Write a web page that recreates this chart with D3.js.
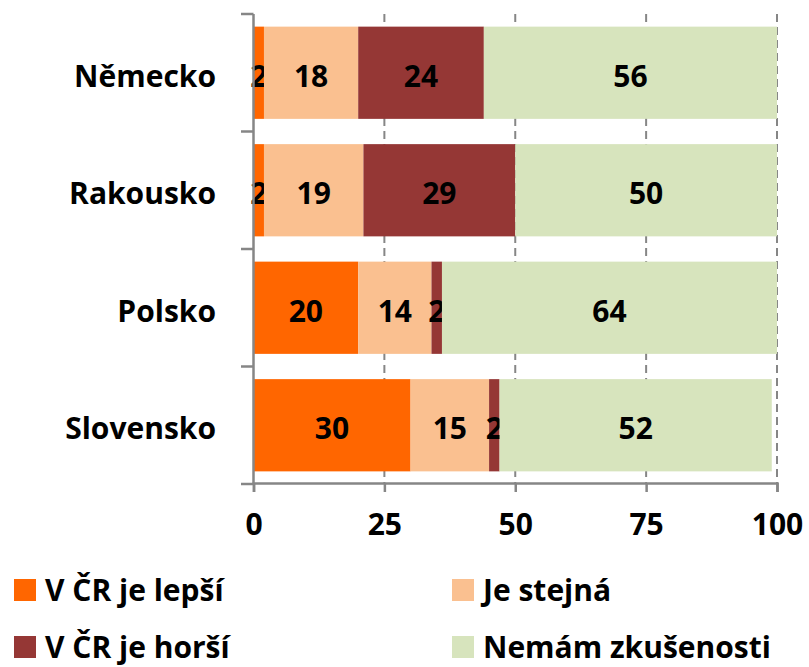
<!DOCTYPE html>
<html>
<head>
<meta charset="utf-8">
<script src="https://cdn.jsdelivr.net/npm/d3@7/dist/d3.min.js"></script>
<style>
  html, body { margin: 0; padding: 0; background: #fff; }
  svg text { font-family: "Open Sans", "DejaVu Sans", sans-serif; font-weight: 700; fill: #000; }
</style>
</head>
<body>
<svg id="chart" width="809" height="667"></svg>
<script>
// Země a podíly odpovědí (%)
const categories = ["Německo", "Rakousko", "Polsko", "Slovensko"];
const seriesNames = ["V ČR je lepší", "Je stejná", "V ČR je horší", "Nemám zkušenosti"];
const lepsi  = [2, 2, 20, 30];
const stejna = [18, 19, 14, 15];
const horsi  = [24, 29, 2, 2];
const nemam  = [56, 50, 64, 52];
const xTicks = [0, 25, 50, 75, 100];
const colors = ["#FF6600", "#FAC090", "#953735", "#D7E4BD"];

const rows = categories.map((c, i) => ({
  country: c,
  [seriesNames[0]]: lepsi[i],
  [seriesNames[1]]: stejna[i],
  [seriesNames[2]]: horsi[i],
  [seriesNames[3]]: nemam[i]
}));

const svg = d3.select("#chart");
const axisColor = "#868686";

const x = d3.scaleLinear().domain([0, 100]).range([253.5, 777]);
const y = d3.scaleBand().domain(categories).range([14, 484])
  .paddingInner(0.215).paddingOuter(0.1075);

// svislé pomocné čáry
svg.append("g").selectAll("line")
  .data(xTicks.filter(t => t > 0))
  .join("line")
  .attr("x1", d => x(d)).attr("x2", d => x(d))
  .attr("y1", 14).attr("y2", 484)
  .attr("stroke", axisColor)
  .attr("stroke-width", 2)
  .attr("stroke-dasharray", "8,5");

// skládané pruhy
const stacked = d3.stack().keys(seriesNames)(rows);
const color = d3.scaleOrdinal().domain(seriesNames).range(colors);

const layers = svg.append("g").selectAll("g")
  .data(stacked)
  .join("g")
  .attr("fill", d => color(d.key));

layers.selectAll("rect")
  .data(d => d)
  .join("rect")
  .attr("x", d => x(d[0]))
  .attr("width", d => x(d[1]) - x(d[0]))
  .attr("y", d => y(d.data.country))
  .attr("height", y.bandwidth());

// hodnoty v pruzích
layers.selectAll("text")
  .data(d => d.map(v => ({ v, key: d.key })))
  .join("text")
  .attr("x", d => (x(d.v[0]) + x(d.v[1])) / 2)
  .attr("y", d => y(d.v.data.country) + y.bandwidth() / 2 + 14)
  .attr("text-anchor", "middle")
  .style("font-size", "30px")
  .text(d => d.v.data[d.key]);

// osa Y s kategoriemi
const yAxisG = svg.append("g");
yAxisG.append("line")
  .attr("x1", 253.5).attr("x2", 253.5)
  .attr("y1", 14).attr("y2", 484)
  .attr("stroke", axisColor).attr("stroke-width", 2.5);
yAxisG.selectAll("line.tick")
  .data(d3.range(categories.length + 1).map(i => 14 + i * y.step()))
  .join("line")
  .attr("class", "tick")
  .attr("x1", 241).attr("x2", 253.5)
  .attr("y1", d => d).attr("y2", d => d)
  .attr("stroke", axisColor).attr("stroke-width", 2.5);
yAxisG.selectAll("text")
  .data(categories)
  .join("text")
  .attr("x", 216)
  .attr("y", d => y(d) + y.bandwidth() / 2 + 14)
  .attr("text-anchor", "end")
  .style("font-size", "30px")
  .text(d => d);

// osa X
const xAxis = d3.axisBottom(x).tickValues(xTicks).tickSize(9).tickPadding(22);
const xAxisG = svg.append("g").attr("transform", "translate(0,483)").call(xAxis);
xAxisG.select(".domain").attr("stroke", axisColor).attr("stroke-width", 2.5);
xAxisG.selectAll(".tick line").attr("stroke", axisColor).attr("stroke-width", 2.5);
xAxisG.selectAll(".tick text")
  .attr("fill", "#000")
  .style("font-family", "\"Open Sans\", sans-serif")
  .style("font-weight", 700)
  .style("font-size", "30px");

// legenda
const legendPos = [
  { sx: 14, sy: 579 },
  { sx: 452, sy: 579 },
  { sx: 14, sy: 636 },
  { sx: 452, sy: 636 }
];
const legend = svg.append("g").selectAll("g")
  .data(seriesNames)
  .join("g")
  .attr("transform", (d, i) => `translate(${legendPos[i].sx},${legendPos[i].sy})`);
legend.append("rect")
  .attr("width", 22).attr("height", 22)
  .attr("fill", d => color(d));
legend.append("text")
  .attr("x", 31).attr("y", 22)
  .style("font-size", "30px")
  .text(d => d);
</script>
</body>
</html>
